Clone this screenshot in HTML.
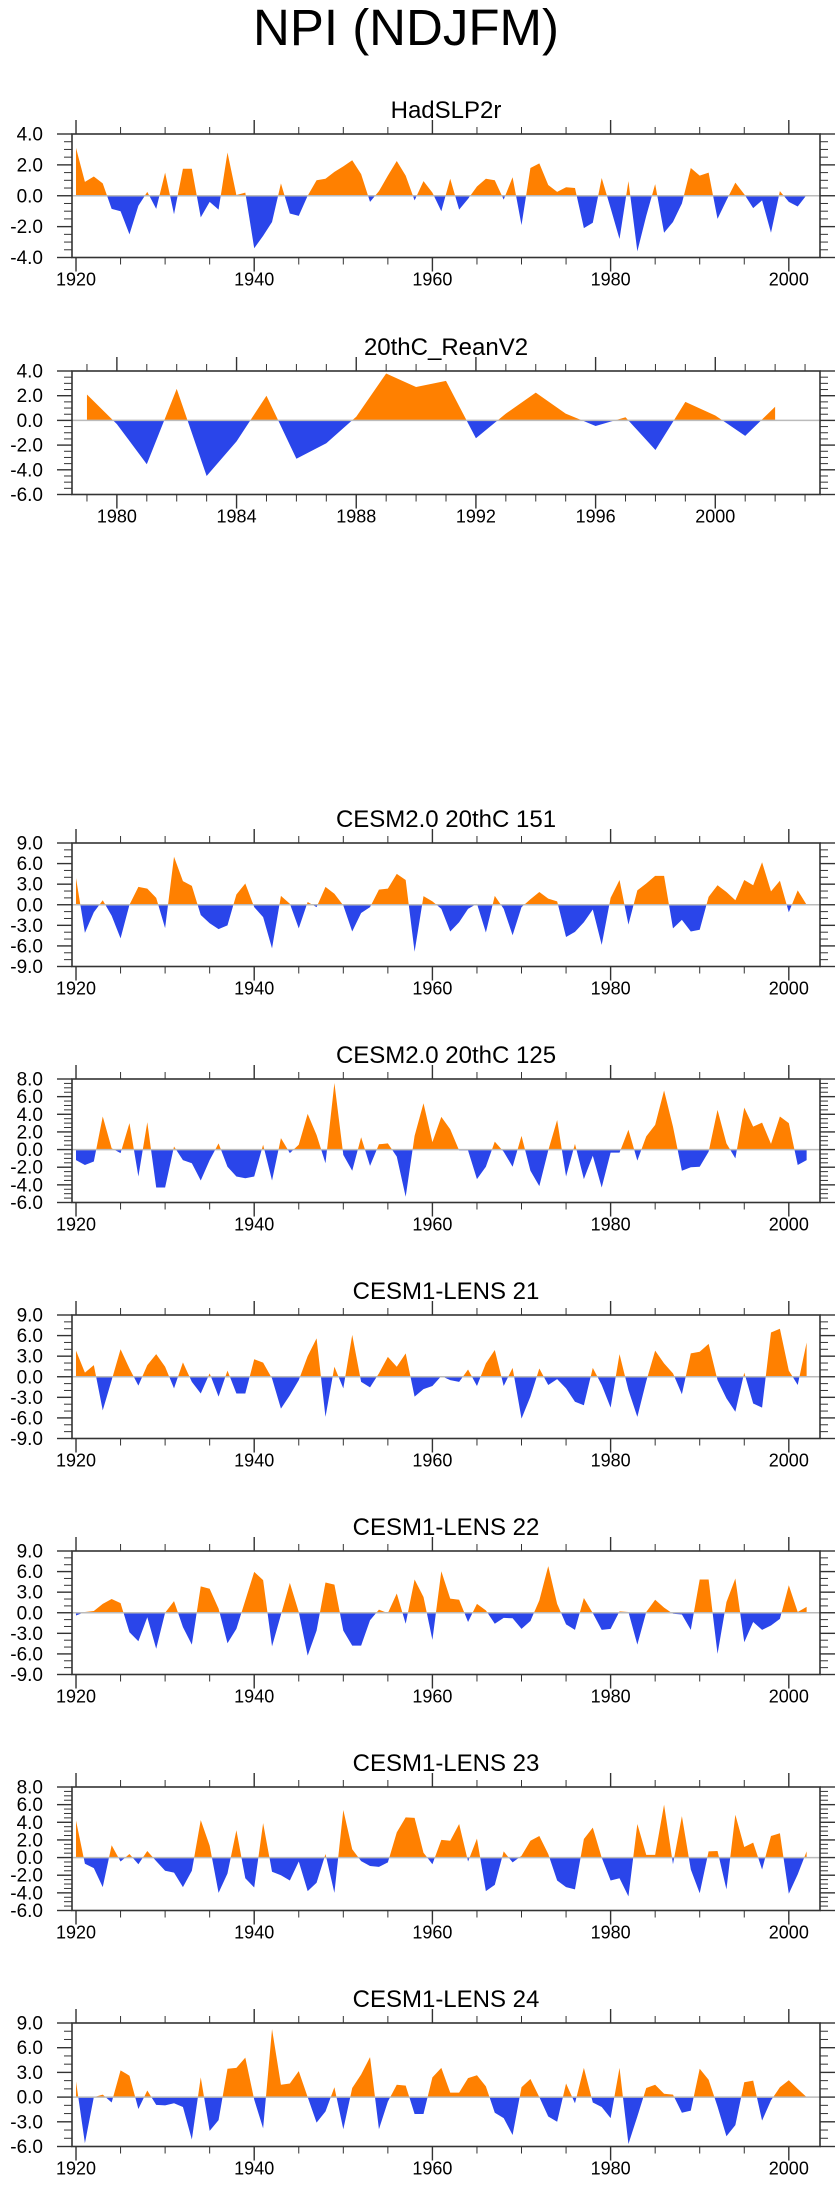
<!DOCTYPE html>
<html><head><meta charset="utf-8"><title>NPI (NDJFM)</title>
<style>
html,body{margin:0;padding:0;background:#fff;}
svg{display:block;font-family:"Liberation Sans",Arial,sans-serif;}
</style></head>
<body>
<svg id="fig" width="840" height="2200" viewBox="0 0 840 2200">
<text x="406" y="45" font-size="51" text-anchor="middle" fill="#000">NPI (NDJFM)</text>
</svg>
<script>
const yearsLong = [];
for (let y = 1920; y <= 2002; y++) yearsLong.push(y);
const yearsShort = [];
for (let y = 1979; y <= 2002; y++) yearsShort.push(y);

const titles = ["HadSLP2r","20thC_ReanV2","CESM2.0 20thC 151","CESM2.0 20thC 125","CESM1-LENS 21","CESM1-LENS 22","CESM1-LENS 23","CESM1-LENS 24"];

const hadslp = [3.1,0.9,1.25,0.8,-0.85,-1.0,-2.5,-0.65,0.25,-0.85,1.5,-1.2,1.75,1.75,-1.4,-0.4,-0.9,2.8,0.05,0.2,-3.4,-2.6,-1.7,0.8,-1.15,-1.3,0.0,1.0,1.1,1.55,1.9,2.3,1.4,-0.4,0.3,1.3,2.25,1.3,-0.3,0.95,0.2,-1.0,1.1,-0.9,-0.2,0.6,1.1,1.0,-0.25,1.2,-1.9,1.8,2.1,0.7,0.25,0.55,0.5,-2.1,-1.75,1.15,-0.8,-2.8,0.95,-3.6,-1.3,0.75,-2.4,-1.7,-0.5,1.8,1.3,1.5,-1.5,-0.3,0.85,0.1,-0.8,-0.3,-2.4,0.3,-0.4,-0.7,0.05];
const rean = [2.1,-0.3,-3.55,2.55,-4.5,-1.7,2.0,-3.1,-1.85,0.3,3.8,2.7,3.2,-1.45,0.55,2.25,0.55,-0.45,0.25,-2.4,1.5,0.4,-1.25,1.1];
const cesm2_151 = [3.9,-4.1,-1.1,0.65,-1.6,-4.9,0.0,2.6,2.35,1.0,-3.4,7.0,3.45,2.75,-1.5,-2.7,-3.55,-3.0,1.5,3.1,-0.35,-1.8,-6.35,1.3,0.15,-3.45,0.4,-0.35,2.6,1.6,-0.1,-3.9,-1.2,-0.35,2.2,2.35,4.5,3.6,-6.85,1.25,0.5,-0.6,-3.9,-2.55,-0.6,0.15,-4.05,1.3,-0.6,-4.45,-0.35,0.8,1.85,0.9,0.5,-4.7,-3.95,-2.55,-0.7,-5.85,1.0,3.6,-2.9,2.1,3.1,4.2,4.2,-3.45,-2.2,-3.9,-3.65,1.15,2.85,1.85,0.65,3.6,2.85,6.2,1.95,3.5,-1.1,2.1,0.0];
const cesm2_125 = [-1.2,-1.75,-1.35,3.75,0.15,-0.4,3.0,-3.05,3.1,-4.3,-4.3,0.35,-1.2,-1.55,-3.5,-1.2,0.7,-1.95,-3.05,-3.25,-3.05,0.55,-3.5,1.3,-0.4,0.55,4.05,1.65,-1.55,7.55,-0.6,-2.4,1.4,-1.85,0.6,0.7,-0.8,-5.35,1.55,5.25,0.85,3.7,2.3,-0.1,-0.1,-3.35,-1.95,0.9,-0.25,-1.95,1.55,-2.4,-4.15,-0.1,3.35,-3.05,0.65,-3.35,-0.7,-4.3,-0.35,-0.35,2.25,-1.25,1.5,2.8,6.7,2.6,-2.4,-2.0,-1.95,-0.25,4.5,0.7,-1.0,4.75,2.6,3.05,0.65,3.75,3.0,-1.75,-1.2];
const lens21 = [3.8,0.6,1.7,-4.9,-0.5,4.0,1.2,-1.3,1.7,3.3,1.45,-1.7,2.1,-0.75,-2.45,0.5,-2.9,0.9,-2.45,-2.45,2.55,2.05,-0.25,-4.65,-2.7,-0.5,3.0,5.6,-5.85,1.45,-1.7,6.1,-0.75,-1.55,0.5,2.9,1.45,3.4,-2.9,-1.8,-1.35,0.1,-0.5,-0.75,1.05,-1.35,1.95,3.9,-1.35,1.3,-6.1,-2.9,1.2,-1.2,-0.35,-1.7,-3.65,-4.15,1.3,-1.2,-4.5,3.3,-1.95,-5.85,-0.65,3.8,1.95,0.5,-2.55,3.4,3.65,4.8,-0.5,-3.15,-5.1,0.6,-3.9,-4.5,6.45,7.0,0.9,-1.2,5.0];
const lens22 = [-0.4,0.1,0.25,1.3,2.0,1.4,-2.85,-4.15,-0.65,-5.25,0.0,1.7,-2.1,-4.65,3.85,3.5,0.6,-4.45,-2.35,1.8,5.95,4.75,-4.9,-0.3,4.35,0.1,-6.25,-2.6,4.4,4.1,-2.6,-4.8,-4.8,-1.1,0.45,-0.05,2.8,-1.6,4.85,2.3,-3.95,6.05,2.05,1.9,-1.35,1.3,0.35,-1.6,-0.75,-0.8,-2.35,-1.2,1.8,6.8,1.3,-1.7,-2.5,2.15,-0.05,-2.5,-2.35,0.2,0.1,-4.65,0.1,1.9,0.75,-0.15,-0.25,-2.5,4.85,4.85,-6.0,1.55,5.0,-4.3,-1.35,-2.5,-1.85,-0.9,4.0,0.1,0.85];
const lens23 = [4.2,-0.7,-1.2,-3.35,1.4,-0.45,0.4,-0.75,0.75,-0.4,-1.5,-1.7,-3.35,-1.5,4.25,1.35,-4.0,-1.8,3.1,-2.35,-3.4,3.9,-1.6,-2.0,-2.6,-0.45,-3.8,-2.85,0.4,-4.0,5.4,0.95,-0.4,-0.95,-1.05,-0.55,2.85,4.55,4.5,0.55,-0.75,2.0,1.9,3.8,-0.45,2.15,-3.8,-3.1,0.7,-0.55,0.2,1.9,2.45,0.4,-2.6,-3.35,-3.6,2.1,3.4,0.0,-2.6,-2.35,-4.4,3.8,0.3,0.3,6.0,-0.75,4.7,-1.35,-4.05,0.7,0.75,-3.6,4.85,1.2,1.7,-1.35,2.45,2.75,-4.1,-1.9,0.7];
const lens24 = [1.9,-5.6,0.0,0.3,-0.65,3.25,2.6,-1.45,0.8,-0.95,-1.0,-0.75,-1.2,-5.15,2.4,-4.1,-2.8,3.45,3.55,4.8,-0.3,-3.8,8.25,1.5,1.65,3.15,0.0,-3.1,-1.75,1.2,-3.9,1.1,2.75,4.85,-3.9,-0.55,1.5,1.4,-2.05,-2.05,2.4,3.55,0.55,0.55,2.3,2.65,1.3,-1.9,-2.55,-4.6,1.2,2.2,0.0,-2.35,-3.0,1.65,-0.75,3.55,-0.65,-1.2,-2.55,3.55,-5.7,-2.35,1.1,1.5,0.4,0.3,-1.9,-1.65,3.45,2.1,-1.15,-4.75,-3.4,1.8,2.0,-2.85,-0.4,1.2,2.05,1.0,0.0];

const seriesList = [hadslp, rean, cesm2_151, cesm2_125, lens21, lens22, lens23, lens24];
const yMins = [-4,-6,-9,-6,-9,-9,-6,-6];
const yMaxs = [4,4,9,8,9,9,8,9];
const yMajors = [2,2,3,2,3,3,2,3];
const yMinors = [0.5,0.5,1,0.5,1,1,0.5,1];

const NS = "http://www.w3.org/2000/svg";
const svg = document.getElementById("fig");
const frameTops = [134,371,843,1079,1315,1551,1787,2023];
const FH = 123.5, FL = 72, FR = 820;

function mk(tag, attrs, parent) {
  const e = document.createElementNS(NS, tag);
  for (const k in attrs) e.setAttribute(k, attrs[k]);
  parent.appendChild(e);
  return e;
}

seriesList.forEach((vals, i) => {
  const isShort = i === 1;
  const years = isShort ? yearsShort : yearsLong;
  const x0 = isShort ? 1978.5 : 1919.55, x1 = 2003.5;
  const top = frameTops[i], bot = top + FH;
  const ymin = yMins[i], ymax = yMaxs[i];
  const xs = v => FL + (v - x0) / (x1 - x0) * (FR - FL);
  const ys = v => bot - (v - ymin) / (ymax - ymin) * FH;
  const g = mk("g", {}, svg);
  
  

  const t = mk("text", {x: (FL + FR) / 2, y: top - 16, "font-size": 24, "text-anchor": "middle", fill: "#000"}, g);
  t.textContent = titles[i];
  
  

  const cid = "clip" + i;
  const defs = mk("defs", {}, g);
  const z = ys(0);
  const cpA = mk("clipPath", {id: cid + "a"}, defs);
  mk("rect", {x: FL, y: top, width: FR - FL, height: z - top}, cpA);
  const cpB = mk("clipPath", {id: cid + "b"}, defs);
  mk("rect", {x: FL, y: z, width: FR - FL, height: bot - z}, cpB);

  let d = "M" + xs(years[0]) + "," + z;
  vals.forEach((v, k) => { d += " L" + xs(years[k]).toFixed(2) + "," + ys(v).toFixed(2); });
  d += " L" + xs(years[years.length - 1]) + "," + z + " Z";
  const pos = mk("path", {d: d, fill: "#ff8000", "clip-path": "url(#" + cid + "a)"}, g);
  
  
  const neg = mk("path", {d: d, fill: "#2a45ea", "clip-path": "url(#" + cid + "b)"}, g);
  
  

  const zl = mk("line", {x1: FL, x2: FR, y1: z, y2: z, stroke: "#bbb", "stroke-width": 1.5}, g);
  
  

  const fr = mk("rect", {x: FL, y: top, width: FR - FL, height: FH, fill: "none", stroke: "#333", "stroke-width": 1.6}, g);
  
  

  const xStart = isShort ? 1979 : 1920, xEnd = isShort ? 2003 : 2000;
  const xStep = isShort ? 1 : 5, xMaj = isShort ? 4 : 20;
  for (let yr = xStart; yr <= xEnd; yr += xStep) {
    const major = ((yr - 1920) % xMaj) === 0;
    const L = major ? 14 : 7;
    const x = xs(yr);
    mk("line", {x1: x, x2: x, y1: top, y2: top - L, stroke: "#333", "stroke-width": major ? 1.4 : 1}, g);
    mk("line", {x1: x, x2: x, y1: bot, y2: bot + L, stroke: "#333", "stroke-width": major ? 1.4 : 1}, g);
    if (major) {
      const lb = mk("text", {x: x, y: bot + 28, "font-size": 18, "text-anchor": "middle", fill: "#000"}, g);
      lb.textContent = yr;
      
      
    }
  }
  const mn = yMinors[i], mj = yMajors[i];
  const n = Math.round((ymax - ymin) / mn);
  for (let k = 0; k <= n; k++) {
    const v = ymin + k * mn;
    const major = Math.abs(v / mj - Math.round(v / mj)) < 1e-6;
    const L = major ? 15 : 8;
    const y = ys(v);
    mk("line", {x1: FL, x2: FL - L, y1: y, y2: y, stroke: "#333", "stroke-width": major ? 1.4 : 1}, g);
    mk("line", {x1: FR, x2: FR + L, y1: y, y2: y, stroke: "#333", "stroke-width": major ? 1.4 : 1}, g);
    if (major) {
      const lb = mk("text", {x: 43, y: y + 6.5, "font-size": 19, "text-anchor": "end", fill: "#000"}, g);
      lb.textContent = v.toFixed(1);
      
      
    }
  }
});
</script>
</body></html>
